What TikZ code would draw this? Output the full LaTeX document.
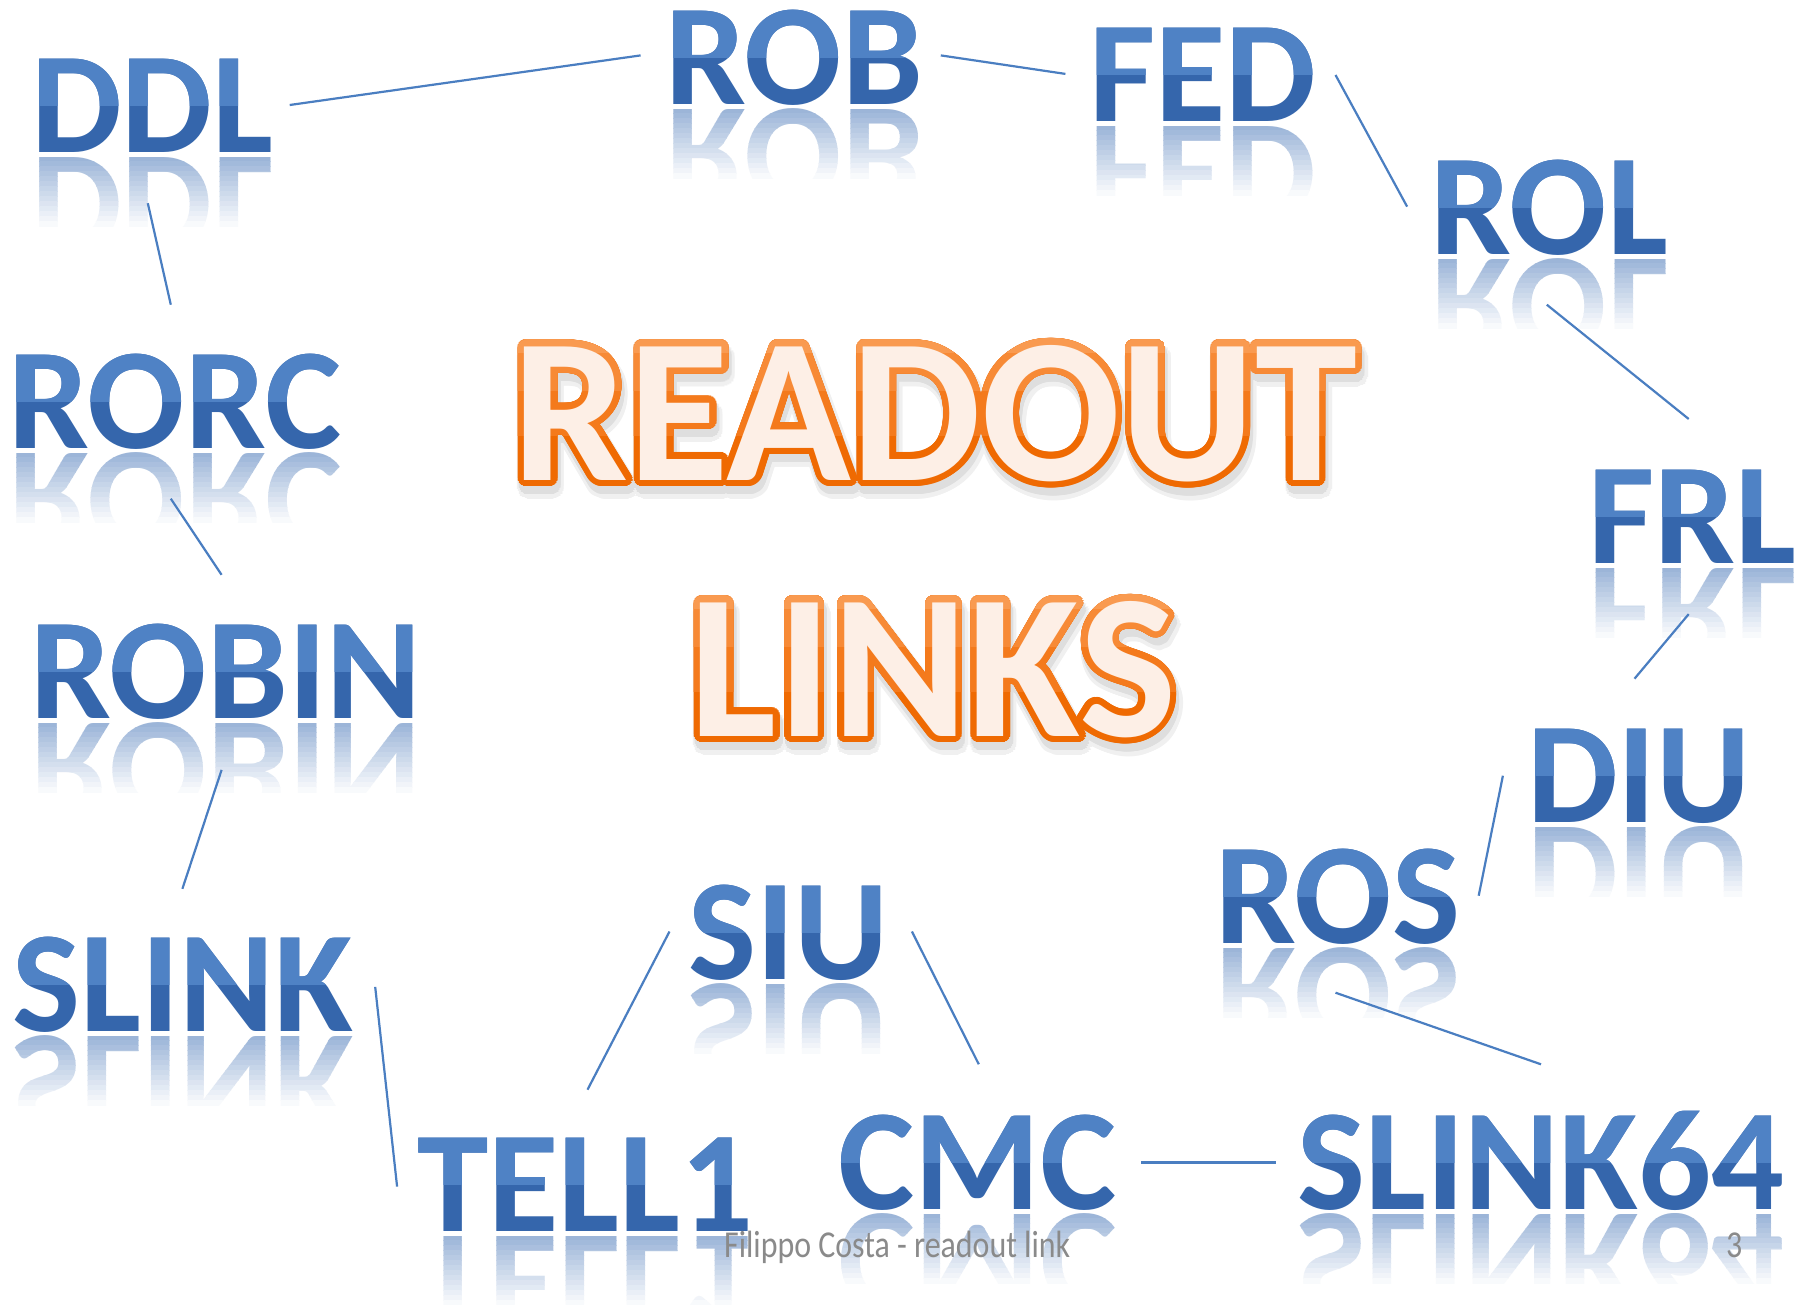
\documentclass[tikz,border=0pt]{standalone}
\usepackage{fontspec}
\setmainfont{Carlito}
\definecolor{bluetop}{HTML}{4F82C5}
\definecolor{bluebot}{HTML}{3566AC}
\definecolor{reflcol}{HTML}{4A78B8}
\definecolor{linecol}{HTML}{4A7EC1}
\definecolor{oa}{HTML}{F99A50}
\definecolor{ob}{HTML}{F78A36}
\definecolor{oc}{HTML}{F47A1C}
\definecolor{od}{HTML}{EF6A02}
\definecolor{cream}{HTML}{FDEFE6}
\definecolor{footgray}{HTML}{8A8A8A}
\tikzset{
  bw/.style={font=\bfseries\fontsize{144}{144}\selectfont, inner sep=0pt, anchor=base west},
  tw/.style={font=\bfseries\fontsize{206}{206}\selectfont, inner sep=0pt, anchor=base},
  conn/.style={draw=linecol, line width=2.2pt},
  foot/.style={font=\fontsize{38}{38}\selectfont, text=footgray, inner sep=0pt, anchor=base west, xscale=0.84, transform shape},
}
% name, x, baseline, text
\newcommand\bwword[4]{%
  \foreach \k in {0,...,13}{%
    \pgfmathsetmacro{\pc}{55*(1-\k/14)}%
    \begin{scope}
      \clip (#2-10,#3+4+5*\k) rectangle (#2+800,#3+9.4+5*\k);
      \begin{scope}[shift={(#2,#3+5)}, yscale=-1, transform shape]
        \node[bw, text=reflcol!\pc!white] at (0,0) {#4};
      \end{scope}
    \end{scope}
  }%
  \node[bw, text=bluebot] (#1) at (#2,#3) {#4};
  \begin{scope}
    \clip (#2-10,#3-110) rectangle (#2+800,#3-47);
    \node[bw, text=bluetop] at (#2,#3) {#4};
  \end{scope}
}
% ring of copies: colour, centre x, baseline, radius, text
\newcommand\ring[5]{%
  \foreach \a in {0,15,...,345}{%
    \node[tw, text=#1] at ({#2+#4*cos(\a)},{#3+#4*sin(\a)}) {#5};
  }%
}
% name, x centre, baseline, text
\newcommand\titleword[4]{%
  \ring{black!6}{#2+3}{#3+9}{10}{#4}
  \ring{black!13}{#2+2}{#3+7}{7.5}{#4}
  \ring{od}{#2}{#3}{6.5}{#4}
  \begin{scope}
    \clip (#2-600,#3-200) rectangle (#2+600,#3-45);
    \ring{oc}{#2}{#3}{6.5}{#4}
  \end{scope}
  \begin{scope}
    \clip (#2-600,#3-200) rectangle (#2+600,#3-90);
    \ring{ob}{#2}{#3}{6.5}{#4}
  \end{scope}
  \begin{scope}
    \clip (#2-600,#3-200) rectangle (#2+600,#3-128);
    \ring{oa}{#2}{#3}{6.5}{#4}
  \end{scope}
  \node[tw, text=cream] (#1) at (#2,#3) {#4};
}
\begin{document}
\begin{tikzpicture}[x=1pt,y=-1pt]
\useasboundingbox (0,0) rectangle (1810,1304);
\fill[white] (0,0) rectangle (1810,1304);

% words
\bwword{ddl}{31}{152}{DDL}
\bwword{rob}{665}{104}{ROB}
\bwword{fed}{1089}{121}{FED}
\bwword{rol}{1430}{254}{ROL}
\bwword{rorc}{8}{448}{RORC}
\bwword{frl}{1588}{563}{FRL}
\bwword{robin}{30}{718}{ROBIN}
\bwword{diu}{1527}{822}{DIU}
\bwword{ros}{1215}{943}{ROS}
\bwword{siu}{688}{979}{SIU}
\bwword{slink}{12}{1031}{SLINK}
\bwword{tell}{417}{1231}{TELL1}
\bwword{cmc}{838}{1209}{CMC}
\bwword{slinksf}{1297}{1209}{SLINK64}

% connector end points
\coordinate (ddl-e) at (289.7,105.0);  \coordinate (rob-w) at (640.6,55.4);
\coordinate (rob-e) at (940.8,55.4);   \coordinate (fed-w) at (1065.4,73.9);
\coordinate (fed-e) at (1335.5,75.0);  \coordinate (rol-w) at (1407.1,206.6);
\coordinate (rol-s) at (1546.8,304.7); \coordinate (frl-n) at (1688.7,419.0);
\coordinate (frl-s) at (1688.7,614.1); \coordinate (diu-n) at (1634.5,678.7);
\coordinate (diu-w) at (1502.9,775.7); \coordinate (ros-e) at (1478.7,895.7);
\coordinate (ros-s) at (1335.5,992.7); \coordinate (sl64-n) at (1541.0,1064.3);
\coordinate (sl64-w) at (1275.5,1162.4); \coordinate (cmc-e) at (1140.5,1162.4);
\coordinate (cmc-n) at (978.8,1064.3); \coordinate (siu-e) at (911.9,931.5);
\coordinate (siu-w) at (669.5,931.5);  \coordinate (tell-n) at (587.5,1089.7);
\coordinate (tell-w) at (397.1,1186.6); \coordinate (slink-e) at (375.2,986.9);
\coordinate (slink-n) at (182.4,888.8); \coordinate (robin-s) at (221.6,769.9);
\coordinate (robin-n) at (221.6,574.8); \coordinate (rorc-s) at (170.8,498.7);
\coordinate (rorc-n) at (170.8,304.7); \coordinate (ddl-s) at (147.8,203.2);

\draw[conn] (ddl-e) -- (rob-w);
\draw[conn] (rob-e) -- (fed-w);
\draw[conn] (fed-e) -- (rol-w);
\draw[conn] (rol-s) -- (frl-n);
\draw[conn] (frl-s) -- (diu-n);
\draw[conn] (diu-w) -- (ros-e);
\draw[conn] (ros-s) -- (sl64-n);
\draw[conn] (sl64-w) -- (cmc-e);
\draw[conn] (cmc-n) -- (siu-e);
\draw[conn] (siu-w) -- (tell-n);
\draw[conn] (tell-w) -- (slink-e);
\draw[conn] (slink-n) -- (robin-s);
\draw[conn] (robin-n) -- (rorc-s);
\draw[conn] (rorc-n) -- (ddl-s);

% title
\titleword{readout}{935}{480}{READOUT}
\titleword{links}{933}{736}{LINKS}

% footer
\node[foot] (footer) at (724,1257) {Filippo Costa - readout link};
\node[foot] (pagenum) at (1726,1257) {3};
\end{tikzpicture}
\end{document}
